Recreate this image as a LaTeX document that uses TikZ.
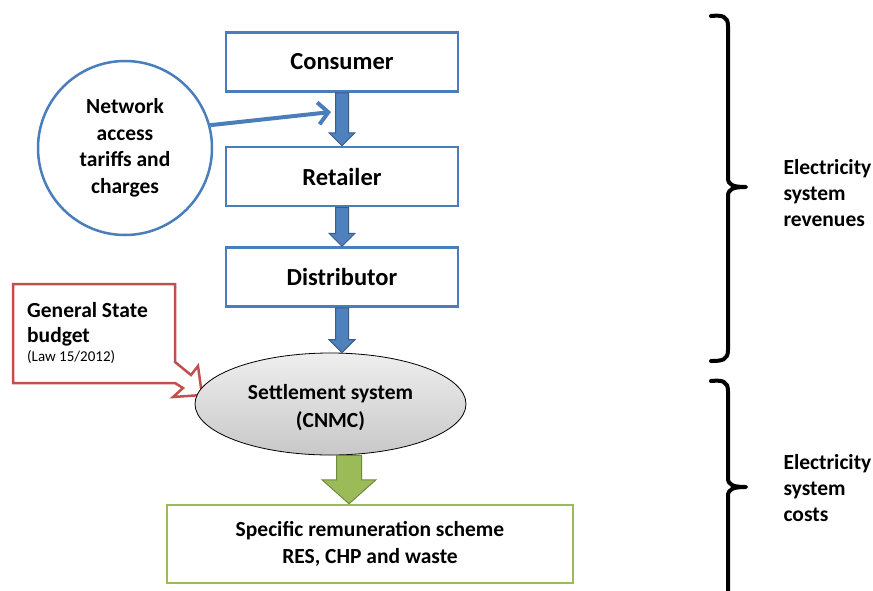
\documentclass[tikz,border=0pt]{standalone}
\usepackage{fontspec}
\setmainfont{Carlito}
\usetikzlibrary{shapes.geometric,arrows.meta,calc}
\definecolor{boxblue}{RGB}{74,126,187}
\definecolor{arrfill}{RGB}{79,129,189}
\definecolor{arrline}{RGB}{56,93,138}
\definecolor{calred}{RGB}{192,80,77}
\definecolor{grn}{RGB}{155,187,89}
\definecolor{grnline}{RGB}{113,137,63}
\begin{document}
\begin{tikzpicture}[x=1pt,y=-1pt,
  stage/.style={draw=boxblue,line width=2.5pt,fill=white,minimum width=232pt,minimum height=59pt,
    font=\fontsize{24.5}{29}\selectfont\bfseries},
  lbl/.style={font=\fontsize{21.5}{26.5}\selectfont\bfseries,align=center},
  sidelbl/.style={font=\fontsize{21.5}{26}\selectfont\bfseries,align=left,anchor=west},
  blockarr/.style={fill=arrfill,draw=arrline,line width=1pt,line join=miter},
  greenarr/.style={fill=grn,draw=grnline,line width=1pt,line join=miter},
  bracestyle/.style={draw=black,line width=4pt,line cap=round,line join=round}]
\useasboundingbox (0,0) rectangle (873,590);

% main chain
\node[stage] (consumer) at (342,62) {Consumer};
\node[stage] (retailer) at (342,176.5) {Retailer};
\node[stage] (distributor) at (342,277) {Distributor};

% callout
\draw[draw=calred,line width=2.5pt,fill=white,line join=miter,miter limit=4]
  (13,284) -- (175,284) -- (175,362) -- (191,375) -- (198,366) -- (202,395)
  -- (173,397) -- (183,388) -- (175,383) -- (13,383) -- cycle;
\node[anchor=west,align=left,inner sep=0pt,font=\fontsize{21.5}{25}\selectfont\bfseries]
  (budget) at (27,324) {General State\\budget};
\node[anchor=west,inner sep=0pt,font=\fontsize{15}{17}\selectfont] (law) at (27,357) {(Law 15/2012)};

% settlement ellipse
\node[ellipse,draw=black,line width=0.8pt,top color={rgb,255:red,238;green,238;blue,238},
  bottom color={rgb,255:red,200;green,200;blue,200},minimum width=271pt,minimum height=102pt,
  inner sep=0pt] (settle) at (330.5,404) {};
\node[lbl,font=\fontsize{21.5}{28}\selectfont\bfseries] (settletxt) at (330.5,407.5)
  {Settlement system\\(CNMC)};

% green box
\node[draw=grn,line width=2.5pt,fill=white,minimum width=406pt,minimum height=78pt,lbl]
  (scheme) at (370,544) {Specific remuneration scheme\\RES, CHP and waste};

% network circle
\node[circle,draw=boxblue,line width=2.5pt,fill=white,minimum size=174pt,lbl,inner sep=0pt]
  (net) at (125,148) {Network\\access\\tariffs and\\charges};
\coordinate (ntip) at (331,112);
\draw[boxblue,line width=4pt,-{Straight Barb[length=10pt,width=22pt,line width=4pt]}] (net.15) -- (ntip);

% blue block arrows
\draw[blockarr] ($(consumer.south)+(-6.5,0)$) -- ($(retailer.north)+(-6.5,-13)$)
  -- ($(retailer.north)+(-13,-13)$) -- (retailer.north) -- ($(retailer.north)+(13,-13)$)
  -- ($(retailer.north)+(6.5,-13)$) -- ($(consumer.south)+(6.5,0)$) -- cycle;
\draw[blockarr] ($(retailer.south)+(-6.5,0)$) -- ($(distributor.north)+(-6.5,-13)$)
  -- ($(distributor.north)+(-13,-13)$) -- (distributor.north) -- ($(distributor.north)+(13,-13)$)
  -- ($(distributor.north)+(6.5,-13)$) -- ($(retailer.south)+(6.5,0)$) -- cycle;
\coordinate (stop) at (distributor.south |- settle.north);
\draw[blockarr] ($(distributor.south)+(-6.5,0)$) -- ($(stop)+(-6.5,-13)$)
  -- ($(stop)+(-13,-13)$) -- (stop) -- ($(stop)+(13,-13)$)
  -- ($(stop)+(6.5,-13)$) -- ($(distributor.south)+(6.5,0)$) -- cycle;

% green block arrow
\coordinate (gs) at ($(settle.south)+(18.5,0)$);
\coordinate (gt) at (gs |- scheme.north);
\draw[greenarr] ($(gs)+(-12.5,0)$) -- ($(gt)+(-12.5,-24)$) -- ($(gt)+(-27,-24)$) -- (gt)
  -- ($(gt)+(27,-24)$) -- ($(gt)+(12.5,-24)$) -- ($(gs)+(12.5,0)$) -- cycle;

% braces
\draw[bracestyle] (711,16) .. controls (722,15) and (728,16) .. (728,26) -- (728,178)
  .. controls (728,185) and (733,187) .. (746,187)
  .. controls (733,187) and (728,189) .. (728,196) -- (728,350)
  .. controls (728,360) and (722,361) .. (711,361);
\draw[bracestyle] (711,381) .. controls (722,380) and (728,381) .. (728,391) -- (728,478)
  .. controls (728,485) and (733,487) .. (746,487)
  .. controls (733,487) and (728,489) .. (728,496) -- (728,600);

\node[sidelbl] (rev) at (780,193) {Electricity\\system\\revenues};
\node[sidelbl] (cost) at (780,488) {Electricity\\system\\costs};
\end{tikzpicture}
\end{document}
